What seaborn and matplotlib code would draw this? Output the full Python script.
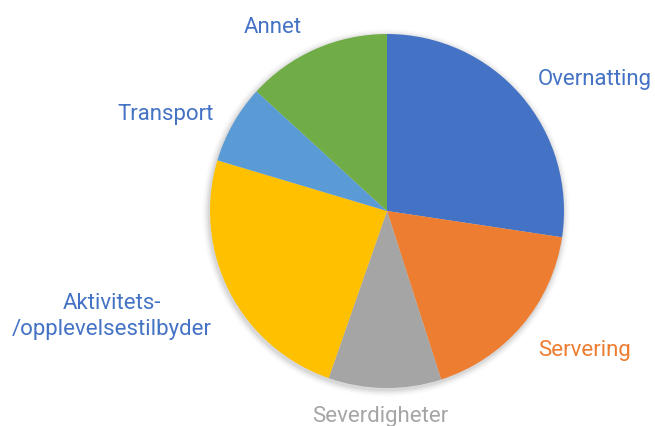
import matplotlib
matplotlib.use("Agg")
import matplotlib.pyplot as plt
import seaborn as sns
from matplotlib.patches import Circle

sns.set_theme(style="white")
plt.rcParams['font.family'] = ['Roboto', 'DejaVu Sans']

categories = ["Overnatting", "Servering", "Severdigheter",
              "Aktivitets-\n/opplevelsestilbyder", "Transport", "Annet"]
values = [27.4, 17.7, 10.3, 24.3, 7.2, 13.2]
slice_colors = ["#4472C4", "#ED7D31", "#A5A5A5", "#FFC000", "#5B9BD5", "#70AD47"]
label_colors = ["#4472C4", "#ED7D31", "#A5A5A5", "#4472C4", "#4472C4", "#4472C4"]

fig = plt.figure(figsize=(6.55, 4.26), dpi=100)
ax = fig.add_axes([0, 0, 1, 1])

# soft shadow
for i, a in enumerate([0.05, 0.04, 0.03, 0.02, 0.01]):
    ax.add_patch(Circle((-0.005, -0.01), 1.0 + 0.008 * (i + 1), color="black",
                        alpha=a, lw=0, zorder=0))

wedges, texts = ax.pie(values, colors=slice_colors, startangle=90, counterclock=False,
                       labels=categories, labeldistance=1.3,
                       wedgeprops=dict(linewidth=0),
                       textprops=dict(fontsize=16, ha="center", va="center"))

label_pos = [(1.175, 0.745), (1.118, -0.790), (-0.040, -1.160),
             (-1.554, -0.595), (-1.249, 0.545), (-0.644, 1.037)]
for t, c, p in zip(texts, label_colors, label_pos):
    t.set_color(c)
    t.set_position(p)
    t.set_ha("center")
    t.set_va("center")
    t.set_multialignment("center")
    t.set_linespacing(1.35)

ax.set_xlim(-387 / 177, (655 - 387) / 177)
ax.set_ylim(-(426 - 211) / 177, 211 / 177)
ax.set_aspect("auto")
ax.axis("off")

fig.savefig("out.png", dpi=100, facecolor="white")
